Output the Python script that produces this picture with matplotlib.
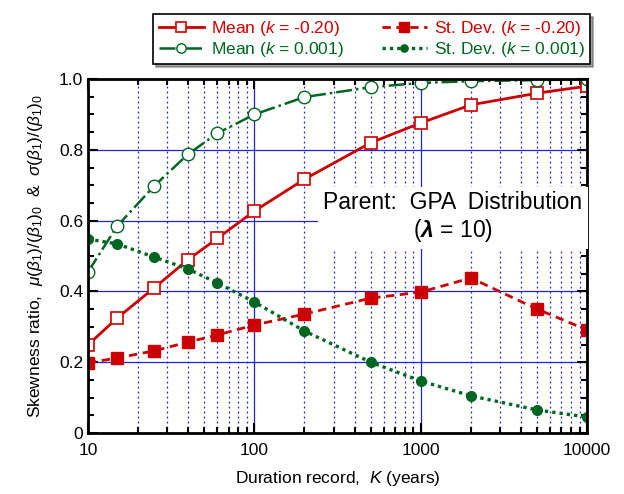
import numpy as np
import matplotlib.pyplot as plt
from matplotlib.ticker import FixedLocator, MultipleLocator, NullFormatter

plt.rcParams['font.family'] = ['Liberation Sans', 'DejaVu Sans']
plt.rcParams['mathtext.fontset'] = 'custom'
plt.rcParams['mathtext.rm'] = 'Liberation Sans'
plt.rcParams['mathtext.it'] = 'Liberation Sans:italic'
plt.rcParams['mathtext.bfit'] = 'Liberation Sans:italic:bold'

# Duration record K (years)
K = [10, 15, 25, 40, 60, 100, 200, 500, 1000, 2000, 5000, 10000]

mean_k020 = [0.249, 0.325, 0.41, 0.49, 0.55, 0.627, 0.717, 0.82, 0.876, 0.927, 0.96, 0.98]
mean_k0001 = [0.455, 0.585, 0.698, 0.788, 0.847, 0.90, 0.949, 0.977, 0.989, 0.994, 0.997, 0.999]
sd_k020 = [0.198, 0.212, 0.232, 0.257, 0.277, 0.305, 0.336, 0.381, 0.398, 0.438, 0.35, 0.291]
sd_k0001 = [0.548, 0.534, 0.497, 0.463, 0.424, 0.37, 0.288, 0.20, 0.147, 0.105, 0.065, 0.045]

red = '#cc0000'
green = '#006622'

fig = plt.figure(figsize=(6.24, 4.94), dpi=100)
ax = fig.add_axes([0.141, 0.1235, 0.800, 0.7165])

ax.set_xscale('log')
ax.set_xlim(10, 10000)
ax.set_ylim(0, 1.0)

# grid
ax.xaxis.set_major_locator(FixedLocator([10, 100, 1000, 10000]))
minors = [m * d for d in (10, 100, 1000) for m in range(2, 10)]
ax.xaxis.set_minor_locator(FixedLocator(minors))
ax.xaxis.set_minor_formatter(NullFormatter())
ax.set_xticklabels(['10', '100', '1000', '10000'])
ax.yaxis.set_minor_locator(MultipleLocator(0.05))
ax.set_yticks([0, 0.2, 0.4, 0.6, 0.8, 1.0])
ax.set_yticklabels(['0', '0.2', '0.4', '0.6', '0.8', '1.0'])
ax.grid(True, which='major', color='#2020dd', lw=0.9, ls='-')
ax.grid(True, which='minor', axis='x', color='#2020dd', lw=0.9, ls=(0, (1.5, 2.5)))
ax.set_axisbelow(True)

ax.tick_params(which='both', direction='in', top=True, right=True, labelsize=12.5, width=1.5)
ax.tick_params(which='major', length=7)
ax.tick_params(which='minor', length=4)
ax.tick_params(axis='x', pad=7)
for s in ax.spines.values():
    s.set_linewidth(2)

l1, = ax.plot(K, mean_k020, '-', color=red, lw=2, marker='s', ms=9, mfc='white',
              mec=red, mew=1.2, label='Mean ($k$ = -0.20)')
l2, = ax.plot(K, sd_k020, ls=(0, (3, 2)), color=red, lw=2, marker='s', ms=9, mfc=red,
              mec=red, label='St. Dev. ($k$ = -0.20)')
l3, = ax.plot(K, mean_k0001, '-.', color=green, lw=1.8, marker='o', ms=9, mfc='white',
              mec=green, mew=1.0, label='Mean ($k$ = 0.001)')
l4, = ax.plot(K, sd_k0001, ls=(0, (1, 1.2)), color=green, lw=2.4, marker='o', ms=7,
              mfc=green, mec=green, label='St. Dev. ($k$ = 0.001)')

ax.set_xlabel('Duration record,  $K$ (years)', fontsize=12.5, labelpad=8)
ax.set_ylabel(r'Skewness ratio,  $\mu(\beta_1)/(\beta_1)_0$  &  $\sigma(\beta_1)/(\beta_1)_0$',
              fontsize=12.5, labelpad=10)

ax.text(0.99, 0.609, 'Parent:  GPA  Distribution\n' + r'($\mathbfit{\lambda}$ = 10)',
        transform=ax.transAxes, ha='right', va='center', fontsize=16.5,
        multialignment='center', linespacing=1.15,
        bbox=dict(facecolor='white', edgecolor='none', pad=4))

leg = fig.legend(handles=[l1, l3, l2, l4], ncol=2, loc='upper left',
                 bbox_to_anchor=(0.232, 0.989), fontsize=12.5, frameon=True,
                 fancybox=False, shadow=True, handlelength=2.6, columnspacing=2.2,
                 borderpad=0.3, labelspacing=0.1, handletextpad=0.4, markerscale=0.75)
leg.get_frame().set_edgecolor('black')
leg.get_frame().set_linewidth(1.2)
for t, c in zip(leg.get_texts(), [red, green, red, green]):
    t.set_color(c)

plt.savefig('out.png', dpi=100)
